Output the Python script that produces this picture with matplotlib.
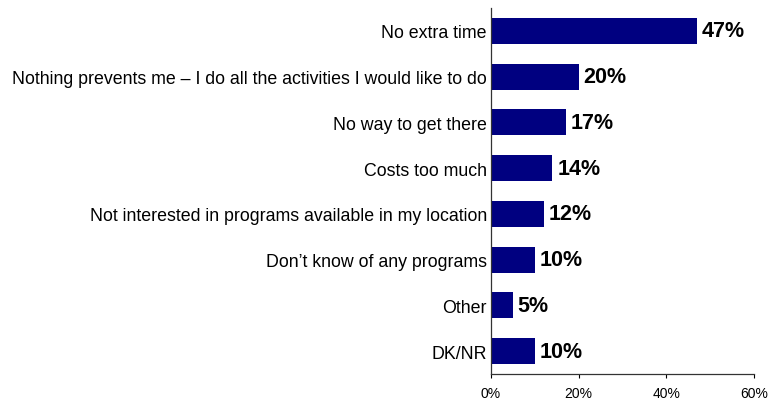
import matplotlib.pyplot as plt

plt.rcParams['font.family'] = ['Liberation Sans', 'DejaVu Sans']

reasons = [
    "No extra time",
    "Nothing prevents me \u2013 I do all the activities I would like to do",
    "No way to get there",
    "Costs too much",
    "Not interested in programs available in my location",
    "Don\u2019t know of any programs",
    "Other",
    "DK/NR",
]
shares = [47, 20, 17, 14, 12, 10, 5, 10]
ticks = [0, 20, 40, 60]

fig = plt.figure(figsize=(7.68, 4.02), dpi=100)
ax = fig.add_axes([0.6393, 0.0672, 0.3425, 0.9104])

pos = list(range(len(reasons)))
ax.barh(pos, shares, height=0.57, color="#000080")
for p, v in zip(pos, shares):
    ax.text(v + 1.1, p, f"{v}%", va="center", ha="left",
            fontsize=15.5, fontweight="bold")

ax.set_ylim(len(reasons) - 0.5, -0.5)
ax.set_xlim(0, 60)
ax.set_yticks(pos)
ax.set_yticklabels(reasons, fontsize=12.75)
ax.tick_params(axis="y", length=0, pad=3)
ax.set_xticks(ticks)
ax.set_xticklabels([f"{t}%" for t in ticks], fontsize=10)
ax.tick_params(axis="x", length=3, width=0.8, color="black", pad=5.5)

for s in ["top", "right"]:
    ax.spines[s].set_visible(False)
for s in ["left", "bottom"]:
    ax.spines[s].set_color("#333333")
    ax.spines[s].set_linewidth(0.9)

fig.savefig("out.png", dpi=100)
